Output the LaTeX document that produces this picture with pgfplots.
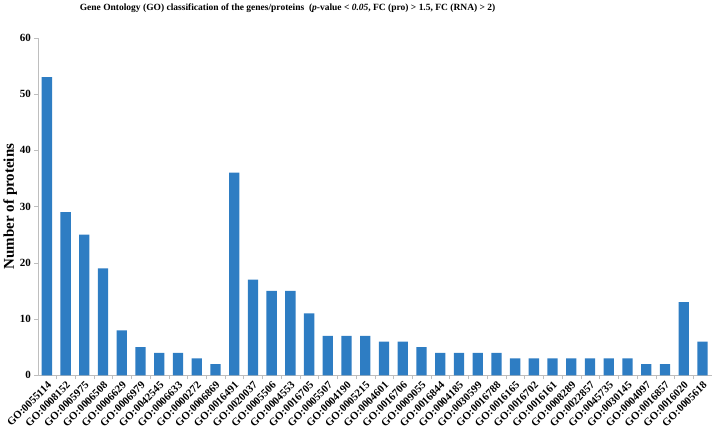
\documentclass[border=0pt]{standalone}
\usepackage{pgfplots}
\pgfplotsset{compat=1.18}
\usepackage{fontspec}
\setmainfont{Liberation Serif}
\definecolor{barblue}{RGB}{46,125,195}
\definecolor{axgray}{RGB}{190,190,190}
\begin{document}
\begin{tikzpicture}
\begin{axis}[
  scale only axis,
  width=674pt,
  height=338pt,
  ybar,
  bar width=0.55,
  ymin=0, ymax=60,
  ytick={0,10,...,60},
  xmin=0.55, xmax=36.5,
  xtick={1,...,36},
  minor x tick num=1,
  xticklabels={GO:0055114,GO:0008152,GO:0005975,GO:0006508,GO:0006629,GO:0006979,GO:0042545,GO:0006633,GO:0000272,GO:0006869,GO:0016491,GO:0020037,GO:0005506,GO:0004553,GO:0016705,GO:0005507,GO:0004190,GO:0005215,GO:0004601,GO:0016706,GO:0009055,GO:0016844,GO:0004185,GO:0030599,GO:0016788,GO:0016165,GO:0016702,GO:0016161,GO:0008289,GO:0022857,GO:0045735,GO:0030145,GO:0004097,GO:0016857,GO:0016020,GO:0005618},
  x tick label style={rotate=45, anchor=north east, font=\bfseries\fontsize{10.8}{11}\selectfont, inner sep=1pt},
  y tick label style={font=\bfseries\fontsize{11}{12}\selectfont},
  /pgf/number format/assume math mode=true,
  axis x line*=bottom,
  axis y line*=left,
  axis line style={axgray},
  major x tick style={draw=none},
  minor x tick style={axgray},
  minor tick length=4pt,
  major tick length=4pt,
  y tick style={axgray},
  tick align=outside,
  ylabel={\bfseries Number of proteins},
  ylabel style={font=\fontsize{15}{16}\selectfont, yshift=-4pt},
  title={\bfseries Gene Ontology (GO) classification of the genes/proteins\ \ (\textit{p}-value < \textit{0.05}, FC (pro) > 1.5, FC (RNA) > 2)},
  title style={font=\fontsize{9.5}{11}\selectfont, at={(0.37,1)}, anchor=south, yshift=16pt},
]
\addplot[fill=barblue, draw=none] coordinates {
(1,53) (2,29) (3,25) (4,19) (5,8) (6,5) (7,4) (8,4) (9,3) (10,2)
(11,36) (12,17) (13,15) (14,15) (15,11) (16,7) (17,7) (18,7) (19,6) (20,6)
(21,5) (22,4) (23,4) (24,4) (25,4) (26,3) (27,3) (28,3) (29,3) (30,3)
(31,3) (32,3) (33,2) (34,2) (35,13) (36,6)};
\end{axis}
\end{tikzpicture}
\end{document}
